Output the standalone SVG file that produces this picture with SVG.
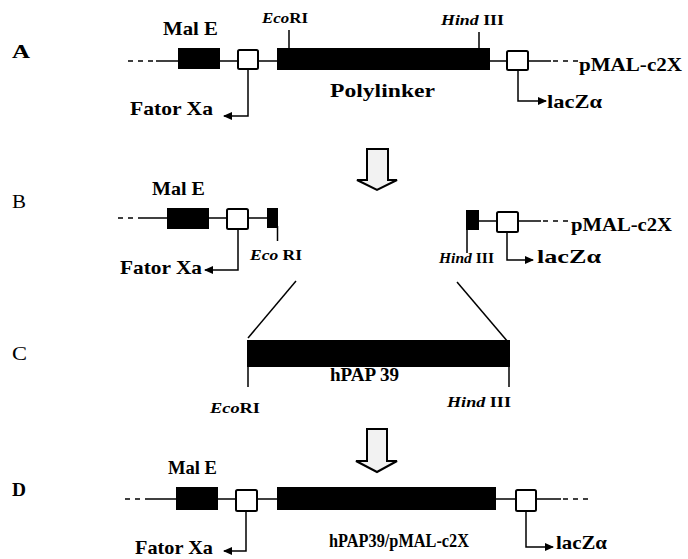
<svg xmlns="http://www.w3.org/2000/svg" width="688" height="559" viewBox="0 0 688 559">
<style>
text{font-family:"Liberation Serif","Times New Roman",Times,serif;font-weight:bold;fill:#000}
.lbl{font-size:19px}
.reg{font-weight:normal}
.t{font-size:19px}
.s{font-size:14px}
.it{font-style:italic}
.ln{stroke:#000;stroke-width:1.5;fill:none}
.dash{stroke:#000;stroke-width:1.5;stroke-dasharray:5 5;fill:none}
.blk{fill:#000}
.sq{fill:#fff;stroke:#000;stroke-width:2}
.big{fill:#f2f2f2;stroke:#000;stroke-width:2}
.arr{stroke:#000;stroke-width:1.5;fill:none;marker-end:url(#ah)}
</style>
<defs>
<marker id="ah" markerUnits="userSpaceOnUse" markerWidth="10" markerHeight="8" refX="8" refY="4" orient="auto">
<path d="M0,0 L9,4 L0,8 Z" fill="#000"/>
</marker>
</defs>
<rect width="688" height="559" fill="#fff"/>

<g id="rowA">
<text class="lbl" x="12" y="58" textLength="18" lengthAdjust="spacingAndGlyphs">A</text>
<g id="A-backbone">
<line class="dash" x1="128" y1="61" x2="156" y2="61"/>
<line class="ln" x1="156" y1="61" x2="178" y2="61"/>
<line class="ln" x1="220" y1="61" x2="238" y2="61"/>
<line class="ln" x1="258" y1="61" x2="277" y2="61"/>
<line class="ln" x1="490" y1="61" x2="507" y2="61"/>
<line class="ln" x1="528" y1="61" x2="551" y2="61"/>
<line class="dash" x1="553" y1="61" x2="578" y2="61"/>
</g>
<g id="A-malE"><rect class="blk" x="178" y="48" width="42" height="21"/>
<text class="t" x="163" y="35" textLength="55" lengthAdjust="spacingAndGlyphs">Mal E</text></g>
<g id="A-fxa"><rect class="sq" x="238" y="50" width="20" height="19" rx="1.5"/></g>
<g id="A-poly"><rect class="blk" x="277" y="48" width="213" height="22"/>
<text class="t" x="330" y="97" textLength="105" lengthAdjust="spacingAndGlyphs">Polylinker</text></g>
<g id="A-lac"><rect class="sq" x="507" y="51" width="21" height="19" rx="1.5"/></g>
<g id="A-eco"><line class="ln" x1="289" y1="30" x2="289" y2="48"/>
<text class="s" x="262" y="23" textLength="46" lengthAdjust="spacingAndGlyphs"><tspan class="it">Eco</tspan>RI</text></g>
<g id="A-hind"><line class="ln" x1="479" y1="32" x2="479" y2="48"/>
<text class="s" x="441" y="25" textLength="63" lengthAdjust="spacingAndGlyphs"><tspan class="it">Hind</tspan> III</text></g>
<text class="t" x="579" y="71" textLength="103" lengthAdjust="spacingAndGlyphs">pMAL-c2X</text>
<text class="t" x="130" y="115" textLength="83" lengthAdjust="spacingAndGlyphs">Fator Xa</text>
<text class="t" x="547" y="108" textLength="55" lengthAdjust="spacingAndGlyphs">lacZα</text>
</g>

<g id="rowB">
<text class="lbl reg" x="12" y="208" textLength="14" lengthAdjust="spacingAndGlyphs">B</text>
<g id="B-backbone">
<line class="dash" x1="118" y1="218" x2="143" y2="218"/>
<line class="ln" x1="143" y1="218" x2="167" y2="218"/>
<line class="ln" x1="209" y1="218" x2="227" y2="218"/>
<line class="ln" x1="248" y1="218" x2="267" y2="218"/>
<line class="ln" x1="479" y1="221" x2="497" y2="221"/>
<line class="ln" x1="518" y1="221" x2="541" y2="221"/>
<line class="dash" x1="543" y1="221" x2="568" y2="221"/>
</g>
<g id="B-malE"><rect class="blk" x="167" y="208" width="42" height="21"/>
<text class="t" x="152" y="195" textLength="53" lengthAdjust="spacingAndGlyphs">Mal E</text></g>
<g id="B-fxa"><rect class="sq" x="227" y="209" width="21" height="20" rx="1.5"/></g>
<g id="B-eco"><rect class="blk" x="267" y="208" width="11" height="20"/>
<line class="ln" x1="277.5" y1="226" x2="277.5" y2="241"/>
<text class="s" x="250" y="260" textLength="52" lengthAdjust="spacingAndGlyphs"><tspan class="it">Eco</tspan> RI</text></g>
<g id="B-hind"><rect class="blk" x="466" y="210" width="13" height="20"/>
<line class="ln" x1="467" y1="228" x2="467" y2="253"/>
<text class="s" x="439" y="263" textLength="55" lengthAdjust="spacingAndGlyphs"><tspan class="it">Hind</tspan> III</text></g>
<g id="B-lac"><rect class="sq" x="497" y="212" width="21" height="20" rx="1.5"/></g>
<text class="t" x="571" y="231" textLength="101" lengthAdjust="spacingAndGlyphs">pMAL-c2X</text>
<text class="t" x="120" y="274" textLength="82" lengthAdjust="spacingAndGlyphs">Fator Xa</text>
<text class="t" x="537" y="263" textLength="64" lengthAdjust="spacingAndGlyphs">lacZα</text>
</g>

<g id="rowC">
<text class="lbl reg" x="12" y="360" textLength="15" lengthAdjust="spacingAndGlyphs">C</text>
<g id="C-insert"><rect class="blk" x="247" y="340" width="263" height="27"/>
<line class="ln" x1="248" y1="366" x2="248" y2="387"/>
<line class="ln" x1="509" y1="366" x2="509" y2="387"/>
<text class="t" x="330" y="381" textLength="69" lengthAdjust="spacingAndGlyphs">hPAP 39</text>
<text class="s" x="210" y="413" textLength="50" lengthAdjust="spacingAndGlyphs"><tspan class="it">Eco</tspan>RI</text>
<text class="s" x="447" y="407" textLength="64" lengthAdjust="spacingAndGlyphs"><tspan class="it">Hind</tspan> III</text></g>
</g>

<g id="rowD">
<text class="lbl" x="12" y="496" textLength="14" lengthAdjust="spacingAndGlyphs">D</text>
<g id="D-backbone">
<line class="dash" x1="125" y1="499" x2="150" y2="499"/>
<line class="ln" x1="150" y1="499" x2="176" y2="499"/>
<line class="ln" x1="218" y1="499" x2="236" y2="499"/>
<line class="ln" x1="257" y1="499" x2="277" y2="499"/>
<line class="ln" x1="496" y1="499" x2="516" y2="499"/>
<line class="ln" x1="536" y1="499" x2="561" y2="499"/>
<line class="dash" x1="563" y1="499" x2="588" y2="499"/>
</g>
<g id="D-malE"><rect class="blk" x="176" y="487" width="42" height="23"/>
<text class="t" x="168" y="474" textLength="49" lengthAdjust="spacingAndGlyphs">Mal E</text></g>
<g id="D-fxa"><rect class="sq" x="236" y="490" width="21" height="21" rx="1.5"/></g>
<g id="D-insert"><rect class="blk" x="277" y="487" width="219" height="23"/>
<text class="t" x="329" y="547" textLength="140" lengthAdjust="spacingAndGlyphs">hPAP39/pMAL-c2X</text></g>
<g id="D-lac"><rect class="sq" x="516" y="490" width="20" height="21" rx="1.5"/></g>
<text class="t" x="135" y="554" textLength="78" lengthAdjust="spacingAndGlyphs">Fator Xa</text>
<text class="t" x="556" y="549" textLength="51" lengthAdjust="spacingAndGlyphs">lacZα</text>
</g>

<g id="connectors">
<path class="arr" d="M248 69 V116 H224"/>
<path class="arr" d="M518 70 V101 H546"/>
<path class="arr" d="M238 229 V270 H205"/>
<path class="arr" d="M507 232 V260 H533"/>
<path class="arr" d="M246 511 V551 H224"/>
<path class="arr" d="M526 511 V547 H553"/>
<line class="ln" x1="296" y1="281" x2="248" y2="338"/>
<line class="ln" x1="457" y1="282" x2="508" y2="342"/>
<polygon class="big" points="367,149 388,149 388,180 397,180 377,190 357,180 367,180"/>
<polygon class="big" points="367,429 387,429 387,461 397,461 377,472 356,461 367,461"/>
</g>
</svg>
